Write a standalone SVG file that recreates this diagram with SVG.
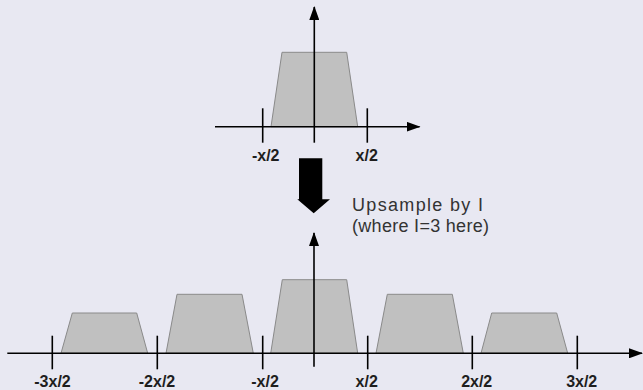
<svg xmlns="http://www.w3.org/2000/svg" width="643" height="390" viewBox="0 0 643 390">
<style>
.bg{fill:#e8e8f2}
.trap{fill:#c0c0c0;stroke:#8a8a8a;stroke-width:1}
.axis{stroke:#000;stroke-width:1.6;fill:none}
.tick{stroke:#000;stroke-width:1.6}
.lbl{font-family:"Liberation Sans",Arial,sans-serif;font-weight:bold;font-size:16px;fill:#1e1e1e;text-anchor:middle}
.note{font-family:"Liberation Sans",Arial,sans-serif;font-size:18px;fill:#333}
</style>
<defs>
<marker id="ah" markerWidth="14" markerHeight="10" refX="13" refY="5" orient="auto" markerUnits="userSpaceOnUse">
<path d="M0,0 L14,5 L0,10 Z" fill="#000"/>
</marker>
</defs>
<rect class="bg" x="0" y="0" width="643" height="390"/>

<g id="top-spectrum">
<polygon class="trap" points="271,126.7 282,52.3 346.7,52.3 357.7,126.7"/>
</g>

<g id="bottom-spectra">
<polygon class="trap" points="61,353.3 72.3,313 136.7,313 147.7,353.3"/>
<polygon class="trap" points="166,353.3 177,294.3 242,294.3 253.3,353.3"/>
<polygon class="trap" points="270.7,353.3 282.3,279.7 346.7,279.7 357.7,353.3"/>
<polygon class="trap" points="376,353.3 387.3,294.3 452.3,294.3 463.3,353.3"/>
<polygon class="trap" points="481,353.3 491.7,313 556.7,313 567.7,353.3"/>
</g>

<g id="connectors">
<line class="axis" x1="215" y1="126.7" x2="419.5" y2="126.7" marker-end="url(#ah)"/>
<line class="axis" x1="314.3" y1="142.7" x2="314.3" y2="7" marker-end="url(#ah)"/>
<line class="tick" x1="262.7" y1="108.3" x2="262.7" y2="142.7"/>
<line class="tick" x1="367.3" y1="108.3" x2="367.3" y2="142.7"/>
<line class="axis" x1="7.3" y1="353.3" x2="642" y2="353.3" marker-end="url(#ah)"/>
<line class="axis" x1="314" y1="366.7" x2="314" y2="233" marker-end="url(#ah)"/>
<line class="tick" x1="52.3" y1="335.7" x2="52.3" y2="369.3"/>
<line class="tick" x1="157.3" y1="335.7" x2="157.3" y2="369.3"/>
<line class="tick" x1="262.7" y1="335.7" x2="262.7" y2="369.3"/>
<line class="tick" x1="367.7" y1="335.7" x2="367.7" y2="369.3"/>
<line class="tick" x1="472.3" y1="335.7" x2="472.3" y2="369.3"/>
<line class="tick" x1="577.3" y1="335.7" x2="577.3" y2="369.3"/>
<polygon points="299,158.3 322.3,158.3 322.3,199.3 330,199.3 313.7,213.3 297.3,199.3 299,199.3" fill="#000"/>
</g>

<g id="top-labels">
<text class="lbl" x="265.7" y="161">-x/2</text>
<text class="lbl" x="366.7" y="161">x/2</text>
</g>

<g id="note">
<text class="note" x="352" y="210.5" textLength="131" lengthAdjust="spacing">Upsample by I</text>
<text class="note" x="352" y="232" textLength="137" lengthAdjust="spacing">(where I=3 here)</text>
</g>

<g id="bottom-labels">
<text class="lbl" x="52.5" y="387">-3x/2</text>
<text class="lbl" x="157" y="387">-2x/2</text>
<text class="lbl" x="265" y="387">-x/2</text>
<text class="lbl" x="366.7" y="387">x/2</text>
<text class="lbl" x="476.7" y="387">2x/2</text>
<text class="lbl" x="581.7" y="387">3x/2</text>
</g>
</svg>
